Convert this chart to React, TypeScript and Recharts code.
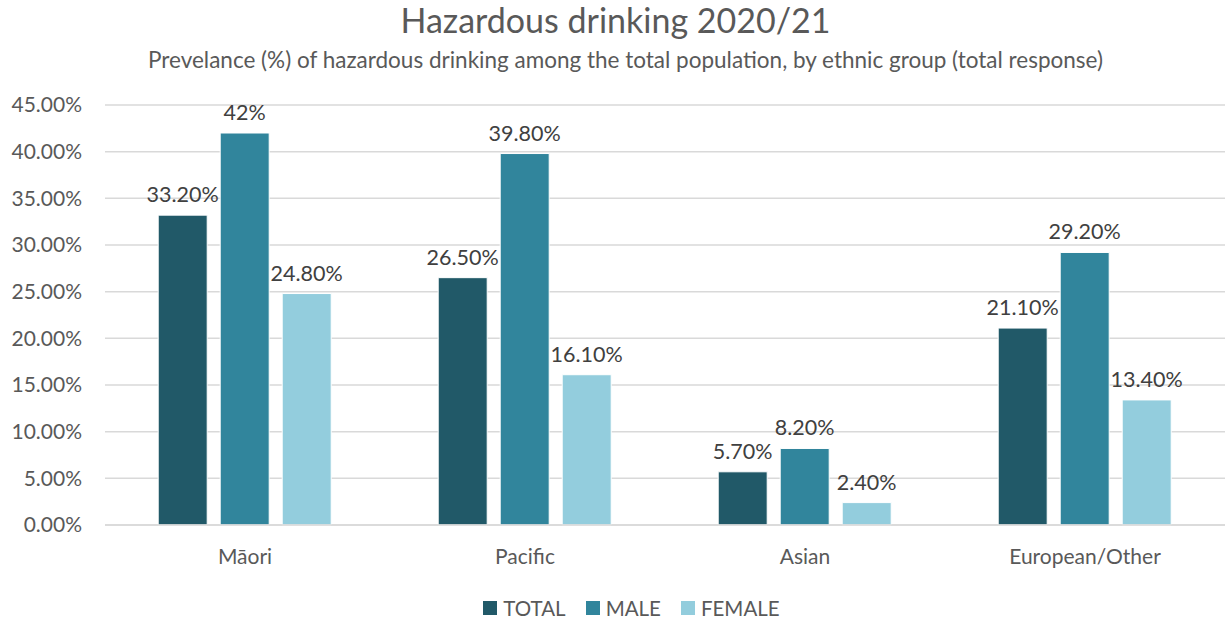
import React from 'react';
import { BarChart, Bar, XAxis, YAxis, CartesianGrid, Legend, LabelList } from 'recharts';

const groups = ['Māori', 'Pacific', 'Asian', 'European/Other'];
const total = [33.2, 26.5, 5.7, 21.1];
const male = [42, 39.8, 8.2, 29.2];
const female = [24.8, 16.1, 2.4, 13.4];
const yTicks = [0, 5, 10, 15, 20, 25, 30, 35, 40, 45];

const data = groups.map((g, i) => ({ group: g, TOTAL: total[i], MALE: male[i], FEMALE: female[i] }));

const FONT = 'Lato, "Open Sans", sans-serif';
const TEXT = '#595959';

const fmtLabel = (v: number) => (Number.isInteger(v) ? `${v}%` : `${v.toFixed(2)}%`);

function LegendContent() {
  const items = [
    { name: 'TOTAL', color: '#215968' },
    { name: 'MALE', color: '#31859c' },
    { name: 'FEMALE', color: '#93cddd' },
  ];
  return (
    <div style={{ display: 'flex', justifyContent: 'center', paddingLeft: 32, fontFamily: FONT, fontSize: 20.5, color: TEXT }}>
      {items.map((it) => (
        <div key={it.name} style={{ display: 'flex', alignItems: 'center', margin: '0 10px' }}>
          <span style={{ width: 14, height: 14, background: it.color, marginRight: 6, display: 'inline-block' }} />
          <span>{it.name}</span>
        </div>
      ))}
    </div>
  );
}

export default function App() {
  return (
    <div style={{ position: 'absolute', left: 0, top: 0, width: 1231, height: 622, background: '#fff' }}>
      <div style={{ position: 'absolute', top: -1, width: 1231, textAlign: 'center', fontFamily: FONT, fontSize: 34, color: TEXT }}>
        Hazardous drinking 2020/21
      </div>
      <div style={{ position: 'absolute', top: 46, left: 10, width: 1231, textAlign: 'center', fontFamily: FONT, fontSize: 22.5, color: TEXT }}>
        Prevelance (%) of hazardous drinking among the total population, by ethnic group (total response)
      </div>
      <BarChart
        width={1231}
        height={622}
        data={data}
        margin={{ top: 105, right: 6, left: 0, bottom: 23 }}
        barCategoryGap="19%"
        barGap={13}
      >
        <CartesianGrid vertical={false} stroke="#d9d9d9" strokeWidth={1.5} />
        <XAxis
          dataKey="group"
          axisLine={{ stroke: '#d9d9d9', strokeWidth: 1.5 }}
          tickLine={false}
          tick={{ fill: TEXT, fontSize: 21, fontFamily: FONT }}
          tickMargin={18}
          height={50}
        />
        <YAxis
          domain={[0, 45]}
          ticks={yTicks}
          interval={0}
          axisLine={false}
          tickLine={false}
          tickSize={0}
          tickMargin={23}
          width={105}
          tickFormatter={(v: number) => `${v.toFixed(2)}%`}
          tick={{ fill: TEXT, fontSize: 21, fontFamily: FONT }}
        />
        <Legend
          content={<LegendContent />}
          wrapperStyle={{ position: 'absolute', top: 596, left: 0, width: 1231 }}
        />
        {(['TOTAL', 'MALE', 'FEMALE'] as const).map((k, i) => (
          <Bar
            key={k}
            dataKey={k}
            fill={['#215968', '#31859c', '#93cddd'][i]}
            stroke="#fff"
            strokeWidth={1}
            isAnimationActive={false}
          >
            <LabelList
              dataKey={k}
              position="top"
              offset={13}
              formatter={(v: number) => fmtLabel(v)}
              style={{ fill: '#404040', fontSize: 21.5, fontFamily: FONT }}
            />
          </Bar>
        ))}
      </BarChart>
    </div>
  );
}
